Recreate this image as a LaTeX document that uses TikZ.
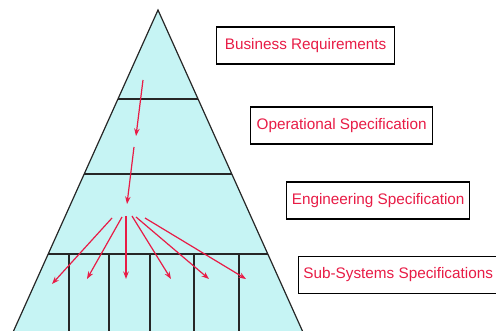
\documentclass[tikz,border=0pt]{standalone}
\usepackage{fontspec}
\setmainfont{Liberation Sans}
\usetikzlibrary{arrows.meta}
\definecolor{pyr}{RGB}{198,244,244}
\definecolor{lbl}{RGB}{232,28,70}
\begin{document}
\begin{tikzpicture}[x=1pt,y=-1pt,
  lvl/.style={draw=black,line width=1.3pt,fill=white,text=lbl,font=\fontsize{15.3}{17}\selectfont,
    minimum height=37pt,inner sep=0pt,anchor=west},
  flow/.style={draw=lbl,line width=1.2pt,-{Stealth[length=7.5pt,width=5.5pt]}},
  edge/.style={line width=1.2pt,draw=black!85}]
\useasboundingbox (0,0) rectangle (496,331);
\begin{scope}
\clip (0,0) rectangle (496,331);
% pyramid
\coordinate (apex) at (158,10);
\coordinate (bl) at (9.5,340);
\coordinate (br) at (306.5,340);
\fill[pyr] (apex) -- (bl) -- (br) -- cycle;
% level lines
\coordinate (l1a) at (118,99);  \coordinate (l1b) at (198,99);
\coordinate (l2a) at (84,174);  \coordinate (l2b) at (232,174);
\coordinate (l3a) at (48,254);  \coordinate (l3b) at (268,254);
\draw[edge] (l1a) -- (l1b);
\draw[edge] (l2a) -- (l2b);
\draw[edge] (l3a) -- (l3b);
\foreach \x [count=\i] in {69,109,150,194,239} {
  \coordinate (vt\i) at (\x,254);
  \coordinate (vb\i) at (\x,340);
  \draw[edge] (vt\i) -- (vb\i);
}
\draw[edge] (bl) -- (apex) -- (br);
% arrows
\coordinate (a1s) at (143,80);  \coordinate (a1e) at (136,136);
\coordinate (a2s) at (134,147); \coordinate (a2e) at (127,204);
\draw[flow] (a1s) -- (a1e);
\draw[flow] (a2s) -- (a2e);
\coordinate (f1s) at (112,218); \coordinate (f1e) at (52,284);
\coordinate (f2s) at (122,217); \coordinate (f2e) at (87,279);
\coordinate (f3s) at (126,216); \coordinate (f3e) at (126,279);
\coordinate (f4s) at (132,216); \coordinate (f4e) at (171,279);
\coordinate (f5s) at (136,217); \coordinate (f5e) at (209,279);
\coordinate (f6s) at (145,218); \coordinate (f6e) at (246,279);
\foreach \i in {1,...,6} { \draw[flow] (f\i s) -- (f\i e); }
% labels
\node[lvl,minimum width=178pt] (br1) at (216,45.5) {Business Requirements};
\node[lvl,minimum width=182pt] (op1) at (250,125.5) {Operational Specification};
\node[lvl,minimum width=183pt] (en1) at (286,200.5) {Engineering Specification};
\node[lvl,minimum width=199pt] (ss1) at (298,275) {Sub-Systems Specifications};
\end{scope}
\end{tikzpicture}
\end{document}
